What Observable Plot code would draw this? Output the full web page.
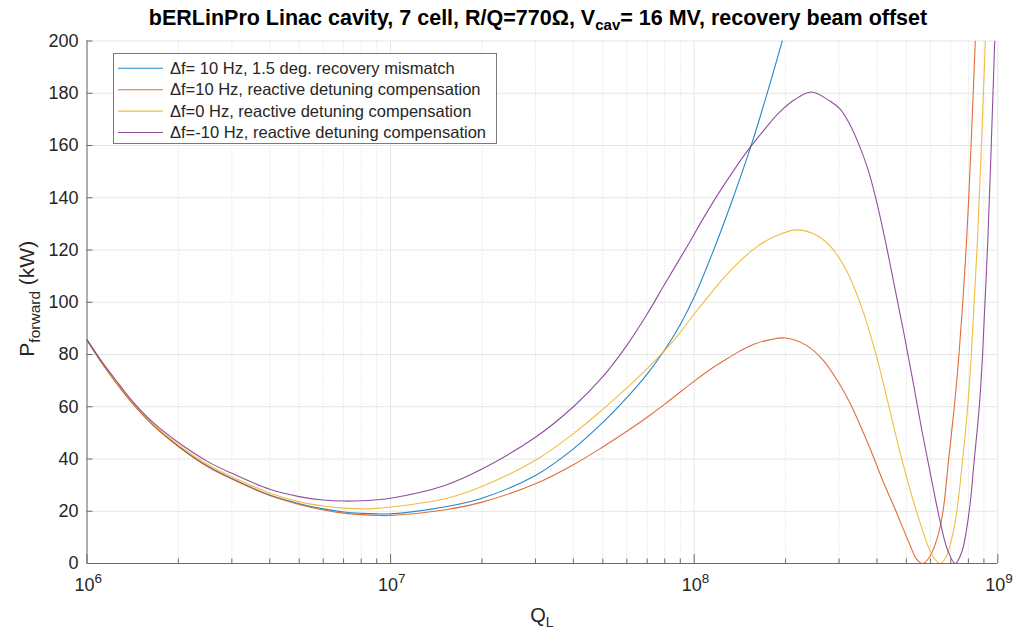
<!DOCTYPE html>
<html>
<head>
<meta charset="utf-8">
<script src="https://cdn.jsdelivr.net/npm/d3@7"></script>
<script src="https://cdn.jsdelivr.net/npm/@observablehq/plot@0.6"></script>
<style>
  html, body { margin: 0; padding: 0; background: #fff; }
  body { width: 1015px; height: 633px; position: relative; overflow: hidden; font-family: "Liberation Sans", Arial, sans-serif; }
  #title { position: absolute; left: 538px; top: 8px; transform: translateX(-50%); white-space: nowrap;
           font-weight: bold; font-size: 21.5px; line-height: 21px; color: #000; }
  #title sub { font-size: 15px; vertical-align: -5px; line-height: 0; }
  #chart { position: absolute; left: 0; top: 30px; }
</style>
</head>
<body>
<div id="title">bERLinPro Linac cavity, 7 cell, R/Q=770Ω, V<sub>cav</sub>= 16 MV, recovery beam offset</div>
<div id="chart"></div>
<script>
// ---- data ----
const seriesNames = [
  "Δf= 10 Hz, 1.5 deg. recovery mismatch",
  "Δf=10 Hz, reactive detuning compensation",
  "Δf=0 Hz, reactive detuning compensation",
  "Δf=-10 Hz, reactive detuning compensation"
];
const seriesColors = ["#0072BD", "#D95319", "#EDB120", "#7E2F8E"];

// Δf= 10 Hz, 1.5 deg. recovery mismatch
const blueQ = [1e6,1.13e6,1.28e6,1.42e6,1.65e6,2e6,2.5e6,3e6,4e6,5e6,6e6,7e6,8e6,9e6,1e7,1.5e7,2e7,3e7,4e7,5e7,6e7,7e7,8e7,9e7,1e8,1.15e8,1.32e8,1.55e8,1.76e8,1.96e8];
const blueP = [85.6,76.1,67.6,61.1,53.1,44.9,37.2,32.5,26.2,22.9,20.9,19.7,19.2,19.0,19.0,21.6,25.0,33.7,43.9,54.0,63.5,72.5,81.8,91.5,102,119,137.5,161,182,201];

// Δf=10 Hz, reactive detuning compensation
const redQ = [1e6,1.13e6,1.28e6,1.42e6,1.65e6,2e6,2.5e6,3e6,4e6,5e6,6e6,7e6,8e6,9e6,1e7,1.5e7,2e7,3e7,4e7,5e7,6e7,7e7,8e7,1e8,1.12e8,1.26e8,1.41e8,1.58e8,1.78e8,2e8,2.35e8,2.67e8,3e8,3.25e8,3.78e8,4.18e8,4.62e8,5.12e8,5.4e8,5.66e8,5.96e8,6.31e8,6.6e8,6.89e8,7.19e8,7.45e8,7.89e8,8.43e8];
const redP = [85.6,76,67.4,60.9,52.9,44.8,37,32.3,26,22.6,20.5,19.3,18.7,18.4,18.4,20.5,23.5,30.5,37.8,44.6,50.6,56.0,61.0,69.8,74,77.8,81.2,84,85.7,86.3,83.4,77.6,69,61.7,44.5,31.7,20,7.5,1.7,0,2.5,9.5,20,40,60,80,123.5,200];

// Δf=0 Hz, reactive detuning compensation
const yellowQ = [1e6,1.13e6,1.28e6,1.42e6,1.65e6,2e6,2.5e6,3e6,4e6,5e6,6e6,7e6,8e6,9e6,1e7,1.5e7,2e7,3e7,4e7,5e7,6e7,7e7,8e7,9e7,1e8,1.1e8,1.25e8,1.42e8,1.61e8,1.82e8,2.16e8,2.47e8,2.8e8,3.18e8,3.55e8,3.95e8,4.34e8,4.8e8,5.38e8,5.9e8,6.17e8,6.46e8,6.76e8,7.05e8,7.33e8,7.66e8,7.96e8,8.18e8,8.57e8,9.1e8];
const yellowP = [85.6,76.2,67.8,61.3,53.4,45.4,37.9,33.2,27,23.6,22.0,21.2,20.9,21.1,21.6,24.7,29.5,39.5,49.7,59.0,67.2,74.6,81.6,88.5,95.5,101.5,109.2,115.9,121.3,124.9,127.7,126.2,121.6,112,98.5,81,62,41,20.5,6.5,2,0,2.6,9.5,20,40,60,80,123.5,200];

// Δf=-10 Hz, reactive detuning compensation
const purpleQ = [1e6,1.13e6,1.28e6,1.42e6,1.65e6,2e6,2.5e6,3e6,4e6,5e6,6e6,7e6,8e6,9e6,1e7,1.5e7,2e7,3e7,4e7,5e7,6e7,7e7,8e7,9.55e7,1.07e8,1.2e8,1.35e8,1.51e8,1.7e8,1.9e8,2.14e8,2.43e8,2.8e8,3.02e8,3.24e8,3.47e8,3.72e8,3.98e8,4.27e8,4.57e8,4.9e8,5.25e8,5.62e8,6.03e8,6.46e8,6.84e8,7.24e8,7.6e8,8.05e8,8.37e8,8.69e8,8.91e8,9.27e8,9.77e8];
const purpleP = [85.6,76.6,68.4,61.8,54,46.3,39,34.5,28.4,25.6,24.3,23.9,24.0,24.4,25.0,29.8,36.2,48.3,60,71.5,83.5,95.5,107,122,132,141.5,150.5,158.5,166,172.5,177.5,180.5,177,174,168.5,161,151.5,139,123,106,88.5,70,51,33,16,5,0,4.2,20,40,60,80,123.5,200];

const yTicks = [0,20,40,60,80,100,120,140,160,180,200];
const xMajor = [1e6,1e7,1e8,1e9];
const xMinor = [2,3,4,5,6,7,8,9].flatMap(k => [6,7,8].map(e => k * 10 ** e));

// ---- build table ----
const seriesQ = [blueQ, redQ, yellowQ, purpleQ];
const seriesP = [blueP, redP, yellowP, purpleP];
const rows = seriesNames.flatMap((name, i) => seriesQ[i].map((q, j) => ({series: name, Q: q, P: seriesP[i][j]})));

const W = 1015, H = 603;
const mTop = 10.5, mRight = 17.7, mBottom = 70, mLeft = 86.5;
const innerW = W - mLeft - mRight, innerH = H - mTop - mBottom;
const axisColor = "#6b6b6b";
const textColor = "#262626";

const chart = Plot.plot({
  width: W, height: H,
  marginTop: mTop, marginRight: mRight, marginBottom: mBottom, marginLeft: mLeft,
  x: {type: "log", domain: [1e6, 1e9], axis: null},
  y: {domain: [0, 200], axis: null},
  color: {domain: seriesNames, range: seriesColors},
  style: {fontFamily: '"Liberation Sans", Arial, sans-serif', fontSize: "18px", color: textColor, background: "#fff", overflow: "visible"},
  marks: [
    // grid
    Plot.ruleX(xMinor, {stroke: "#cfcfcf", strokeDasharray: "1,2", strokeWidth: 0.8}),
    Plot.ruleX(xMajor, {stroke: "#e6e6e6"}),
    Plot.ruleY(yTicks, {stroke: "#e6e6e6"}),
    // curves
    Plot.line(rows, {x: "Q", y: "P", z: "series", stroke: "series", strokeWidth: 1.1, strokeOpacity: 0.85, curve: "catmull-rom", clip: true}),
    // axis lines and inward ticks
    Plot.ruleX([1e6], {stroke: axisColor}),
    Plot.ruleY([0], {stroke: axisColor}),
    Plot.ruleY(yTicks.slice(1), {stroke: axisColor, insetRight: innerW - 6}),
    Plot.ruleX(xMajor, {stroke: axisColor, insetTop: innerH - 9}),
    Plot.ruleX(xMinor, {stroke: axisColor, insetTop: innerH - 4.5}),
    // tick labels
    Plot.text(yTicks, {y: d => d, frameAnchor: "left", dx: -8.5, text: d => String(d), textAnchor: "end", fontSize: 18, fill: textColor}),
    Plot.text(xMajor, {x: d => d, frameAnchor: "bottom", dy: 27, dx: 7.5, text: () => "10", textAnchor: "end", fontSize: 18, fill: textColor}),
    Plot.text(xMajor, {x: d => d, frameAnchor: "bottom", dy: 19, dx: 7.5, text: d => String(Math.round(Math.log10(d))), textAnchor: "start", fontSize: 13.5, fill: textColor})
  ]
});

document.getElementById("chart").appendChild(chart);

const svg = d3.select(chart);
// axis labels with subscripts
const xl = svg.append("text")
  .attr("x", mLeft + innerW / 2).attr("y", 592)
  .attr("text-anchor", "middle").attr("fill", textColor)
  .style("font-size", "20px");
xl.append("tspan").text("Q");
xl.append("tspan").attr("dy", 5).style("font-size", "14px").text("L");

const yl = svg.append("text")
  .attr("transform", `translate(34,${mTop + innerH / 2 - 3}) rotate(-90)`)
  .attr("text-anchor", "middle").attr("fill", textColor)
  .style("font-size", "21px");
yl.append("tspan").text("P");
yl.append("tspan").attr("dy", 6).style("font-size", "15.5px").text("forward");
yl.append("tspan").attr("dy", -6).text(" (kW)");

// legend
const lg = svg.append("g");
lg.append("rect").attr("x", 113.5).attr("y", 23.5).attr("width", 383).attr("height", 90)
  .attr("fill", "#fff").attr("stroke", "#7a7a7a").attr("stroke-width", 1);
seriesNames.forEach((name, i) => {
  const cy = 38.3 + i * 21.4;
  lg.append("line").attr("x1", 118).attr("x2", 163).attr("y1", cy).attr("y2", cy)
    .attr("stroke", seriesColors[i]).attr("stroke-width", 1.1).attr("stroke-opacity", 0.85);
  lg.append("text").attr("x", 170).attr("y", cy).attr("dy", "0.35em")
    .attr("text-anchor", "start")
    .attr("fill", textColor).style("font-size", "16.5px").text(name);
});
</script>
</body>
</html>
